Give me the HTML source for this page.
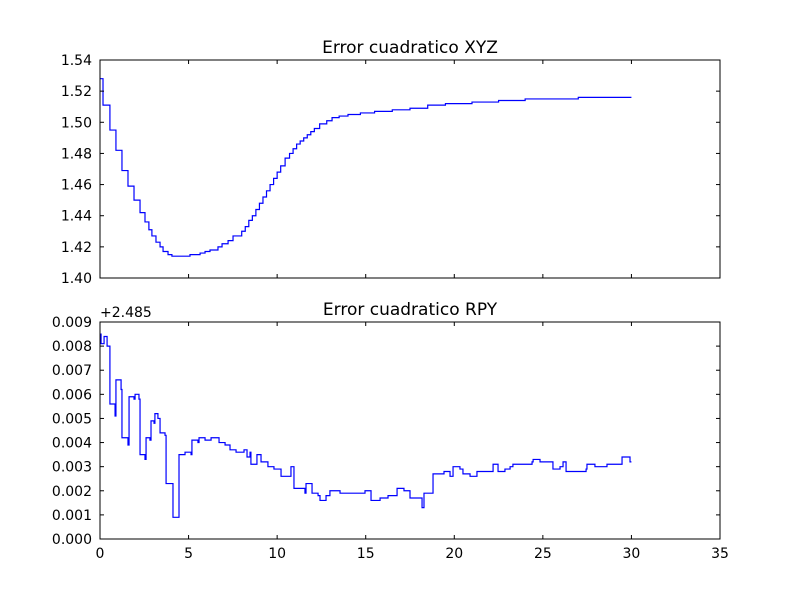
<!DOCTYPE html>
<html><head><meta charset="utf-8"><style>body{margin:0;background:#fff}svg text{font-family:"DejaVu Sans","Liberation Sans",sans-serif}</style></head>
<body>
<svg id="c" width="800" height="600" xmlns="http://www.w3.org/2000/svg"></svg>
<script>
const xyzX=[0,0.17,0.56,0.9,1.24,1.58,1.92,2.26,2.54,2.76,2.93,3.16,3.39,3.56,3.84,4.06,5.08,5.65,5.93,6.21,6.66,6.89,7.23,7.51,8.0,8.2,8.4,8.6,8.8,9.0,9.2,9.4,9.6,9.8,10.0,10.2,10.45,10.7,10.9,11.1,11.3,11.5,11.7,11.9,12.1,12.4,12.8,13.1,13.5,14.0,14.7,15.5,16.5,17.5,18.5,19.5,21,22.5,24,25.5,27];
const xyzY=[1.528,1.511,1.495,1.482,1.469,1.459,1.450,1.442,1.436,1.431,1.427,1.423,1.420,1.417,1.415,1.414,1.415,1.416,1.417,1.418,1.420,1.422,1.424,1.427,1.430,1.433,1.437,1.440,1.444,1.448,1.452,1.456,1.460,1.464,1.468,1.472,1.477,1.480,1.483,1.486,1.488,1.490,1.492,1.494,1.496,1.499,1.501,1.503,1.504,1.505,1.506,1.507,1.508,1.509,1.511,1.512,1.513,1.514,1.515,1.515,1.516];
const rpyX=[0,0.06,0.11,0.23,0.4,0.56,0.85,0.9,1.19,1.24,1.58,1.64,1.92,1.98,2.2,2.26,2.54,2.6,2.82,2.88,3.05,3.1,3.27,3.39,3.67,3.73,4.06,4.12,4.46,4.8,5.14,5.19,5.53,5.59,5.93,6.27,6.72,7.06,7.34,7.68,8.13,8.3,8.47,8.52,8.86,9.09,9.48,9.82,10.22,10.78,10.95,11.57,11.63,11.97,12.31,12.42,12.76,12.98,13.55,14.96,15.3,15.81,16.26,16.77,17.16,17.5,18.18,18.29,18.8,19.42,19.76,19.93,20.32,20.49,20.89,21.28,22.02,22.19,22.47,22.86,23.15,23.31,24.39,24.45,24.84,25.52,25.57,25.97,26.14,26.31,26.53,27.44,27.49,27.94,28.62,29.47,29.92];
const rpyY=[0.0085,0.0081,0.0081,0.0084,0.0080,0.0056,0.0051,0.0066,0.0062,0.0042,0.0039,0.0059,0.0058,0.0060,0.0058,0.0035,0.0033,0.0042,0.0041,0.0049,0.0048,0.0052,0.0050,0.0044,0.0043,0.0023,0.0023,0.0009,0.0035,0.0036,0.0035,0.0041,0.0040,0.0042,0.0041,0.0042,0.0040,0.0039,0.0037,0.0036,0.0037,0.0034,0.0036,0.0031,0.0035,0.0032,0.0030,0.0029,0.0026,0.0030,0.0021,0.0019,0.0023,0.0019,0.0018,0.0016,0.0018,0.0020,0.0019,0.0020,0.0016,0.0017,0.0018,0.0021,0.0020,0.0017,0.0013,0.0019,0.0027,0.0028,0.0026,0.0030,0.0029,0.0027,0.0026,0.0028,0.0028,0.0031,0.0028,0.0029,0.0030,0.0031,0.0032,0.0033,0.0032,0.0032,0.0029,0.0030,0.0032,0.0028,0.0028,0.0029,0.0031,0.0030,0.0031,0.0034,0.0032];
const xTicks=[0,5,10,15,20,25,30,35];
const topTicks=[1.40,1.42,1.44,1.46,1.48,1.50,1.52,1.54];
const botTicks=[0,0.001,0.002,0.003,0.004,0.005,0.006,0.007,0.008,0.009];
const svg=document.getElementById('c');const NS='http://www.w3.org/2000/svg';
function mk(t,a,txt){const e=document.createElementNS(NS,t);for(const k in a)e.setAttribute(k,a[k]);if(txt!==undefined)e.textContent=txt;svg.appendChild(e);return e;}
const L=100,R=720,sx=v=>L+(v/35)*(R-L);
function panel(top,bot,ymin,ymax,ticks,fmt,xs,ys,end,title,name,showX){
 const sy=v=>bot-(v-ymin)/(ymax-ymin)*(bot-top);
 let d='M'+sx(xs[0])+','+sy(ys[0]);
 for(let i=1;i<xs.length;i++){d+='H'+sx(xs[i])+'V'+sy(ys[i]);}
 d+='H'+sx(end);
 let p=mk('path',{d:d,fill:'none',stroke:'#0000ff','stroke-width':1.2});
 
 let f=mk('rect',{x:L,y:top,width:R-L,height:bot-top,fill:'none',stroke:'#000','stroke-width':1});
 
 ticks.forEach(t=>{const y=sy(t);mk('line',{x1:L,x2:L+4,y1:y,y2:y,stroke:'#000'});mk('line',{x1:R,x2:R-4,y1:y,y2:y,stroke:'#000'});
  let tx=mk('text',{x:L-8,y:y+5,'text-anchor':'end','font-size':14},fmt(t));});
 xTicks.forEach(t=>{const x=sx(t);mk('line',{x1:x,x2:x,y1:bot,y2:bot-4,stroke:'#000'});mk('line',{x1:x,x2:x,y1:top,y2:top+4,stroke:'#000'});
  if(showX){let tx=mk('text',{x:x,y:bot+19,'text-anchor':'middle','font-size':14},String(t));}});
 let ti=mk('text',{x:(L+R)/2,y:top-7,'text-anchor':'middle','font-size':17},title);
}
panel(60,278,1.40,1.54,topTicks,v=>v.toFixed(2),xyzX,xyzY,30,'Error cuadratico XYZ','xyz',false);
panel(322,539,0,0.009,botTicks,v=>v.toFixed(3),rpyX,rpyY,30,'Error cuadratico RPY','rpy',true);
let off=mk('text',{x:100,y:317,'font-size':14},'+2.485');
</script>
</body></html>
